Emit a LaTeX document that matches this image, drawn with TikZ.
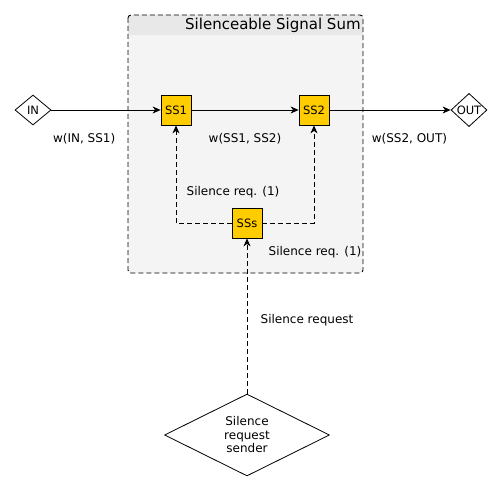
\documentclass[tikz,border=0pt]{standalone}
\usepackage{fontspec}
\setmainfont{DejaVu Sans}
\usetikzlibrary{arrows.meta,shapes.geometric,positioning}
\definecolor{ssyellow}{HTML}{FFCC00}
\definecolor{boxgray}{HTML}{F4F4F4}
\definecolor{bargray}{HTML}{E8E8E8}
\tikzset{
    block/.style={
           rectangle,
           draw=black,
           fill=ssyellow,
           minimum size=30pt,
           inner sep=0pt,
           font=\fontsize{11.5}{13}\selectfont,
           },
    port/.style={
           diamond,
           draw=black,
           fill=white,
           inner sep=0pt,
           font=\fontsize{11.5}{13}\selectfont,
           },
    lbl/.style={font=\fontsize{12}{13.5}\selectfont},
    wire/.style={-{Stealth[length=8pt,width=7pt,inset=2.5pt]}},
    req/.style={wire, dash pattern=on 5pt off 3pt},
}
\begin{document}
\begin{tikzpicture}[x=1pt, y=-1pt, line width=0.8pt]
\useasboundingbox (0,0) rectangle (502,486);
% container
\fill[boxgray, rounded corners=3pt] (128,15) rectangle (363,273);
\fill[bargray, rounded corners=3pt] (128,15) rectangle (363,35);
\fill[bargray] (128,25) rectangle (363,35);
\draw[black, line width=0.9pt, rounded corners=3pt, dash pattern=on 5pt off 3pt] (128,15) rectangle (363,273);
\node[anchor=east, font=\fontsize{15}{17}\selectfont, inner sep=1pt] (title) at (362,25) {Silenceable Signal Sum};
% nodes
\node[port, minimum width=36pt, minimum height=30pt] (in) at (33,110) {IN};
\node[block] (ss1) at (176,110) {SS1};
\node[block] (ss2) at (314,110) {SS2};
\node[port, minimum width=36pt, minimum height=30pt] (out) at (469,110) {OUT};
\node[block] (sss) at (247,223) {SSs};
\node[port, minimum width=165pt, minimum height=66pt, align=center, lbl] (snd) at (247,435) {Silence\\request\\sender};
% connectors
\path (in) edge[wire] node[lbl, pos=0.3, yshift=-29pt]{w(IN, SS1)} (ss1);
\path (ss1) edge[wire] node[lbl, pos=0.5, yshift=-29pt]{w(SS1, SS2)} (ss2);
\path (ss2) edge[wire] node[lbl, pos=0.66, yshift=-29pt]{w(SS2, OUT)} (out);
\draw[req] (sss.west) -| node[lbl, pos=0.5, xshift=57pt, yshift=31pt]{Silence req. (1)} (ss1.south);
\draw[req] (sss.east) -| node[lbl, pos=0.5, xshift=1pt, yshift=-29pt]{Silence req. (1)} (ss2.south);
\draw[req] (snd.north) -- node[lbl, pos=0.47, xshift=60pt]{Silence request} (sss.south);
\end{tikzpicture}
\end{document}
